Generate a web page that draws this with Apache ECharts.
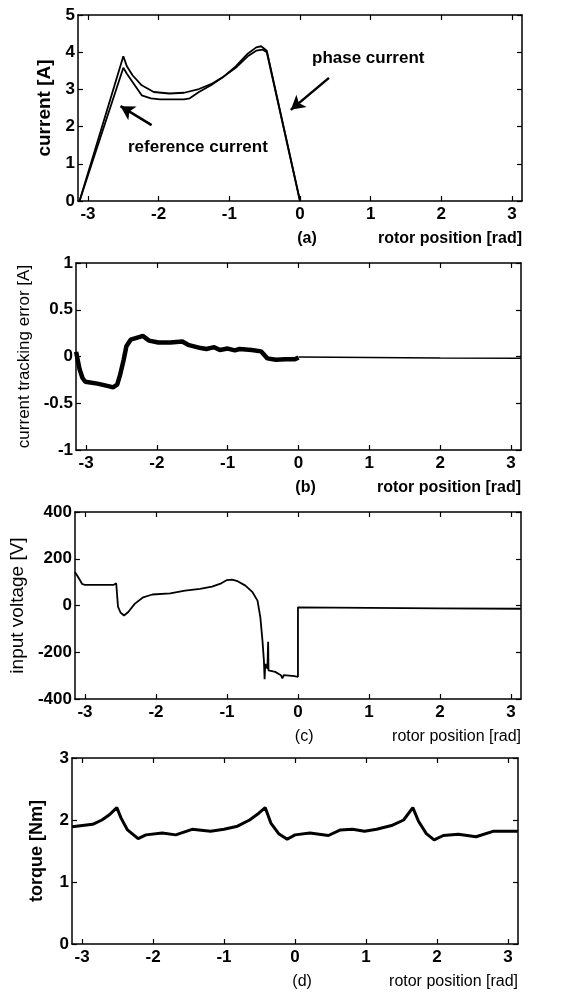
<!DOCTYPE html>
<html>
<head>
<meta charset="utf-8">
<script src="https://cdn.jsdelivr.net/npm/echarts@6/dist/echarts.min.js"></script>
<style>
  html, body { margin: 0; padding: 0; background: #fff; }
  #chart { width: 578px; height: 1002px; }
</style>
</head>
<body>
<div id="chart"></div>
<script>
// tick positions along rotor position axis
const xTicks = [-3, -2, -1, 0, 1, 2, 3];

// (a) currents
const phaseX = [-3.12, -2.50, -2.45, -2.37, -2.24, -2.07, -1.85, -1.64, -1.43, -1.26, -1.09, -0.91, -0.74, -0.62, -0.55, -0.47, 0.0];
const phaseY = [0, 3.89, 3.62, 3.38, 3.11, 2.93, 2.89, 2.91, 3.01, 3.14, 3.33, 3.62, 3.96, 4.13, 4.16, 4.04, 0];
const refX = [-3.12, -2.50, -2.45, -2.37, -2.24, -2.11, -1.98, -1.81, -1.64, -1.56, -1.43, -1.26, -1.09, -0.91, -0.74, -0.62, -0.53, -0.47, 0.0];
const refY = [0, 3.58, 3.42, 3.20, 2.84, 2.76, 2.73, 2.73, 2.73, 2.76, 2.93, 3.11, 3.33, 3.58, 3.89, 4.04, 4.07, 4.00, 0];

// (b) current tracking error
const errX = [-3.14, -3.09, -3.05, -3.01, -2.84, -2.67, -2.62, -2.56, -2.52, -2.47, -2.43, -2.37, -2.24, -2.20, -2.11, -1.98, -1.81, -1.64, -1.56, -1.38, -1.30, -1.19, -1.11, -1.00, -0.90, -0.83, -0.66, -0.53, -0.44, -0.32, -0.19, -0.05, 0.0];
const errY = [0.05, -0.14, -0.23, -0.27, -0.29, -0.32, -0.33, -0.30, -0.20, -0.04, 0.11, 0.18, 0.21, 0.22, 0.17, 0.15, 0.15, 0.16, 0.125, 0.09, 0.08, 0.10, 0.07, 0.085, 0.065, 0.08, 0.07, 0.055, -0.02, -0.035, -0.03, -0.03, -0.01];
const errTailX = [0.0, 1.0, 2.0, 3.14];
const errTailY = [-0.005, -0.01, -0.015, -0.02];

// (c) input voltage
const voltX = [-3.14, -3.11, -3.09, -3.07, -3.04, -3.0, -2.6, -2.56, -2.54, -2.535, -2.5, -2.45, -2.39, -2.30, -2.18, -2.05, -1.80, -1.59, -1.38, -1.21, -1.08, -1.00, -0.93, -0.85, -0.74, -0.64, -0.57, -0.53, -0.50, -0.48, -0.47, -0.46, -0.43, -0.42, -0.415, -0.32, -0.24, -0.22, -0.20, -0.05, 0.0, 0.0, 1.0, 2.0, 3.14];
const voltY = [142, 128, 130, 108, 92, 88, 88, 95, 100, -5, -30, -43, -28, 7, 35, 47, 52, 64, 71, 81, 95, 109, 111, 104, 85, 57, 21, -50, -150, -234, -315, -250, -270, -155, -278, -284, -298, -312, -298, -302, -305, -8, -10, -12, -14];

// (d) torque
const torqX = [-3.14, -2.85, -2.72, -2.62, -2.51, -2.45, -2.36, -2.21, -2.10, -1.87, -1.68, -1.45, -1.19, -1.00, -0.81, -0.64, -0.51, -0.42, -0.34, -0.23, -0.11, 0.0, 0.21, 0.47, 0.64, 0.81, 0.98, 1.15, 1.36, 1.53, 1.66, 1.74, 1.85, 1.96, 2.09, 2.30, 2.55, 2.80, 3.14];
const torqY = [1.89, 1.93, 2.0, 2.08, 2.20, 2.03, 1.84, 1.70, 1.76, 1.79, 1.76, 1.85, 1.82, 1.85, 1.90, 2.0, 2.11, 2.20, 1.95, 1.78, 1.69, 1.76, 1.79, 1.75, 1.84, 1.85, 1.82, 1.85, 1.91, 2.0, 2.20, 1.98, 1.78, 1.68, 1.75, 1.77, 1.73, 1.82, 1.82];

// annotation arrows in (a): [tail, head] in data units
const phaseArrow = [[0.41, 3.31], [-0.13, 2.45]];
const refArrow = [[-2.10, 2.04], [-2.54, 2.55]];

const FONT = '"Liberation Sans", Arial, sans-serif';
const grids = [
    { left: 78, right: 56, top: 15, height: 186 },
    { left: 76, right: 57, top: 263, height: 187 },
    { left: 73, right: 57, top: 512, height: 187 },
    { left: 72, right: 60, top: 758, height: 186 }
];
const yCfg = [
    { min: 0, max: 5, interval: 1, name: 'current [A]', weight: 'bold', size: 19, gap: 20 },
    { min: -1, max: 1, interval: 0.5, name: 'current tracking error [A]', weight: 'normal', size: 17, gap: 40 },
    { min: -400, max: 400, interval: 200, name: 'input voltage [V]', weight: 'normal', size: 19, gap: 44 },
    { min: 0, max: 3, interval: 1, name: 'torque [Nm]', weight: 'bold', size: 18, gap: 26 }
];
const panelTags = ['(a)', '(b)', '(c)', '(d)'];

function zip(xs, ys) {
    return xs.map(function (x, i) { return [x, ys[i]]; });
}

let xAxes = [], yAxes = [], graphics = [];
grids.forEach(function (g, i) {
    let axisLine = { onZero: false, lineStyle: { color: '#000', width: 1.5 } };
    let tick = { inside: true, length: 5, customValues: xTicks, lineStyle: { color: '#000', width: 1.2 } };
    xAxes.push({
        gridIndex: i, type: 'value', min: -Math.PI, max: Math.PI,
        axisLine: axisLine, axisTick: tick, splitLine: { show: false },
        axisLabel: { customValues: xTicks, color: '#000', fontFamily: FONT, fontWeight: 'bold', fontSize: 17, margin: 5 }
    });
    xAxes.push({
        gridIndex: i, type: 'value', position: 'top', min: -Math.PI, max: Math.PI,
        axisLine: axisLine, axisTick: tick, splitLine: { show: false }, axisLabel: { show: false }
    });
    let c = yCfg[i];
    let ytick = { inside: true, length: 5, lineStyle: { color: '#000', width: 1.2 } };
    let yLine = { show: true, onZero: false, lineStyle: { color: '#000', width: 1.5 } };
    yAxes.push({
        gridIndex: i, type: 'value', min: c.min, max: c.max, interval: c.interval,
        axisLine: yLine, axisTick: ytick, splitLine: { show: false },
        axisLabel: { color: '#000', fontFamily: FONT, fontWeight: 'bold', fontSize: 17, margin: 3 },
        name: c.name, nameLocation: 'middle', nameGap: c.gap,
        nameTextStyle: { color: '#000', fontFamily: FONT, fontWeight: c.weight, fontSize: c.size }
    });
    yAxes.push({
        gridIndex: i, type: 'value', position: 'right', min: c.min, max: c.max, interval: c.interval,
        axisLine: yLine, axisTick: ytick, splitLine: { show: false },
        axisLabel: { show: false }
    });
    // bottom caption row
    let plotW = 578 - g.left - g.right;
    let bottom = g.top + g.height;
    let xZero = g.left + plotW * (0.1 + Math.PI) / (2 * Math.PI);
    let weight = i < 2 ? 'bold' : 'normal';
    graphics.push({
        type: 'text', x: xZero, y: bottom + 38,
        style: { text: panelTags[i], align: 'center', verticalAlign: 'middle', fill: '#000', font: weight + ' 16px ' + FONT }
    });
    graphics.push({
        type: 'text', x: 578 - g.right, y: bottom + 38,
        style: { text: 'rotor position [rad]', align: 'right', verticalAlign: 'middle', fill: '#000', font: weight + ' 16px ' + FONT }
    });
});

graphics.push({
    type: 'text', x: 312, y: 58,
    style: { text: 'phase current', align: 'left', verticalAlign: 'middle', fill: '#000', font: 'bold 17px ' + FONT }
});
graphics.push({
    type: 'text', x: 128, y: 147,
    style: { text: 'reference current', align: 'left', verticalAlign: 'middle', fill: '#000', font: 'bold 17px ' + FONT }
});

function line(name, xs, ys, i, width) {
    return {
        name: name, type: 'line', xAxisIndex: 2 * i, yAxisIndex: 2 * i,
        data: zip(xs, ys), showSymbol: false, symbol: 'none', smooth: false,
        lineStyle: { color: '#000', width: width }, silent: true, animation: false
    };
}

let arrowLine = function (a) {
    return [{ coord: a[0] }, { coord: a[1] }];
};

let phaseSeries = line('phase current', phaseX, phaseY, 0, 1.8);
phaseSeries.markLine = {
    silent: true, animation: false,
    symbol: ['none', 'arrow'], symbolSize: [12, 14],
    label: { show: false },
    lineStyle: { color: '#000', width: 2.5, type: 'solid' },
    data: [arrowLine(phaseArrow), arrowLine(refArrow)]
};

let chart = echarts.init(document.getElementById('chart'));
chart.setOption({
    backgroundColor: '#fff',
    animation: false,
    grid: grids,
    xAxis: xAxes,
    yAxis: yAxes,
    graphic: graphics,
    series: [
        phaseSeries,
        line('reference current', refX, refY, 0, 1.8),
        line('current tracking error', errX, errY, 1, 4.5),
        line('current tracking error', errTailX, errTailY, 1, 1.5),
        line('input voltage', voltX, voltY, 2, 1.8),
        line('torque', torqX, torqY, 3, 3)
    ]
});
</script>
</body>
</html>
